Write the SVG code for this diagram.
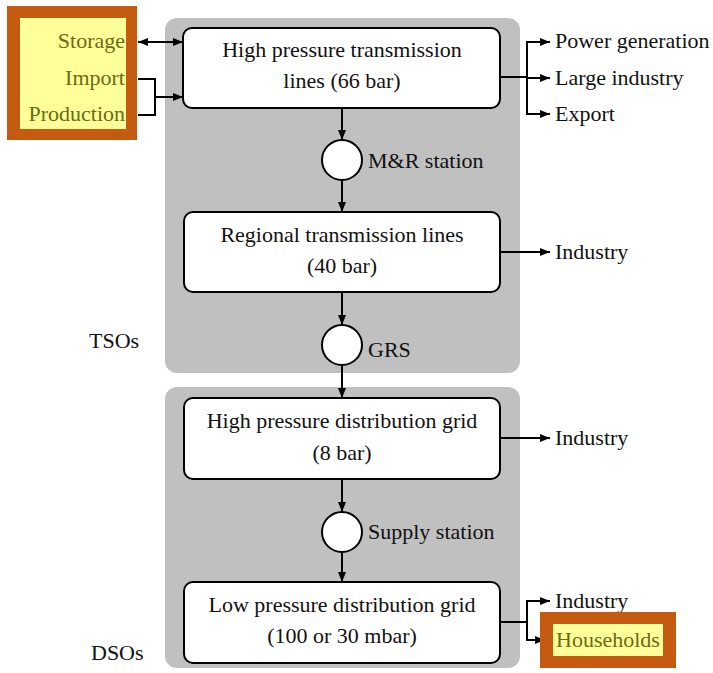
<svg xmlns="http://www.w3.org/2000/svg" width="713" height="673" viewBox="0 0 713 673">
  <style>
    .panel { fill: #c0c0c0; }
    .box { fill: #ffffff; stroke: #000; stroke-width: 2; }
    .stn { fill: #ffffff; stroke: #000; stroke-width: 2; }
    .t { font-family: "Liberation Serif", "Times New Roman", serif; font-size: 22px; fill: #111; }
    .c { text-anchor: middle; }
    .hl { font-family: "Liberation Serif", "Times New Roman", serif; font-size: 22px; fill: #6b6b12; }
    .frame { fill: #c55a11; }
    .mark { fill: #ffff99; }
    .ln { fill: none; stroke: #000; stroke-width: 2; }
  </style>
  <defs>
    <marker id="ah" viewBox="0 0 10 8" refX="10" refY="4" markerWidth="10" markerHeight="8" markerUnits="userSpaceOnUse" orient="auto-start-reverse">
      <path d="M0,0 L10,4 L0,8 z" fill="#000"/>
    </marker>
  </defs>

  <!-- operator panels -->
  <g id="tso-panel">
    <rect class="panel" x="165" y="18" width="355" height="355" rx="12"/>
    <text class="t" x="89" y="348">TSOs</text>
  </g>
  <g id="dso-panel">
    <rect class="panel" x="165" y="387" width="355" height="281" rx="12"/>
    <text class="t" x="91" y="660">DSOs</text>
  </g>

  <!-- sources -->
  <g id="sources">
    <rect class="frame" x="7" y="6" width="130" height="134"/>
    <rect class="mark" x="20" y="18" width="106" height="111"/>
    <text class="hl" x="125" y="48" text-anchor="end">Storage</text>
    <text class="hl" x="125" y="85" text-anchor="end">Import</text>
    <text class="hl" x="125" y="121" text-anchor="end">Production</text>
  </g>

  <!-- connectors -->
  <g id="connectors">
    <line class="ln" x1="138" y1="42" x2="183" y2="42" marker-start="url(#ah)" marker-end="url(#ah)"/>
    <polyline class="ln" points="138,79 155,79 155,115 138,115"/>
    <line class="ln" x1="155" y1="97" x2="183" y2="97" marker-end="url(#ah)"/>

    <line class="ln" x1="500" y1="77" x2="527" y2="77"/>
    <polyline class="ln" points="550,42 527,42 527,114 550,114" marker-start="url(#ah)" marker-end="url(#ah)"/>
    <line class="ln" x1="527" y1="78" x2="550" y2="78" marker-end="url(#ah)"/>

    <line class="ln" x1="500" y1="252" x2="550" y2="252" marker-end="url(#ah)"/>
    <line class="ln" x1="500" y1="438" x2="550" y2="438" marker-end="url(#ah)"/>

    <line class="ln" x1="500" y1="622" x2="527" y2="622"/>
    <polyline class="ln" points="550,601 527,601 527,640 545,640" marker-start="url(#ah)" marker-end="url(#ah)"/>

    <line class="ln" x1="342" y1="109" x2="342" y2="140" marker-end="url(#ah)"/>
    <line class="ln" x1="342" y1="180" x2="342" y2="212" marker-end="url(#ah)"/>
    <line class="ln" x1="342" y1="292" x2="342" y2="325" marker-end="url(#ah)"/>
    <line class="ln" x1="342" y1="365" x2="342" y2="398" marker-end="url(#ah)"/>
    <line class="ln" x1="342" y1="479" x2="342" y2="512" marker-end="url(#ah)"/>
    <line class="ln" x1="342" y1="552" x2="342" y2="582" marker-end="url(#ah)"/>
  </g>

  <!-- network levels -->
  <g id="hp-transmission">
    <rect class="box" x="183" y="28" width="317" height="80" rx="9"/>
    <text class="t c" x="342" y="57">High pressure transmission</text>
    <text class="t c" x="342" y="88">lines (66 bar)</text>
  </g>
  <g id="mr-station">
    <circle class="stn" cx="342" cy="160" r="20"/>
    <text class="t" x="368" y="168">M&amp;R station</text>
  </g>
  <g id="regional-transmission">
    <rect class="box" x="184" y="212" width="316" height="80" rx="9"/>
    <text class="t c" x="342" y="242">Regional transmission lines</text>
    <text class="t c" x="342" y="273">(40 bar)</text>
  </g>
  <g id="grs">
    <circle class="stn" cx="342" cy="345" r="20"/>
    <text class="t" x="368" y="357">GRS</text>
  </g>
  <g id="hp-distribution">
    <rect class="box" x="184" y="398" width="316" height="81" rx="9"/>
    <text class="t c" x="342" y="428">High pressure distribution grid</text>
    <text class="t c" x="342" y="460">(8 bar)</text>
  </g>
  <g id="supply-station">
    <circle class="stn" cx="342" cy="532" r="20"/>
    <text class="t" x="368" y="539">Supply station</text>
  </g>
  <g id="lp-distribution">
    <rect class="box" x="184" y="582" width="316" height="81" rx="9"/>
    <text class="t c" x="342" y="612">Low pressure distribution grid</text>
    <text class="t c" x="342" y="643">(100 or 30 mbar)</text>
  </g>

  <!-- consumers -->
  <g id="consumers">
    <text class="t" x="555" y="48">Power generation</text>
    <text class="t" x="555" y="85">Large industry</text>
    <text class="t" x="555" y="121">Export</text>
    <text class="t" x="555" y="259">Industry</text>
    <text class="t" x="555" y="445">Industry</text>
    <text class="t" x="555" y="608">Industry</text>
  </g>
  <g id="households">
    <rect class="frame" x="540" y="612" width="136" height="56"/>
    <rect class="mark" x="553" y="624" width="110" height="32"/>
    <text class="hl" x="608" y="647" text-anchor="middle">Households</text>
  </g>
</svg>
